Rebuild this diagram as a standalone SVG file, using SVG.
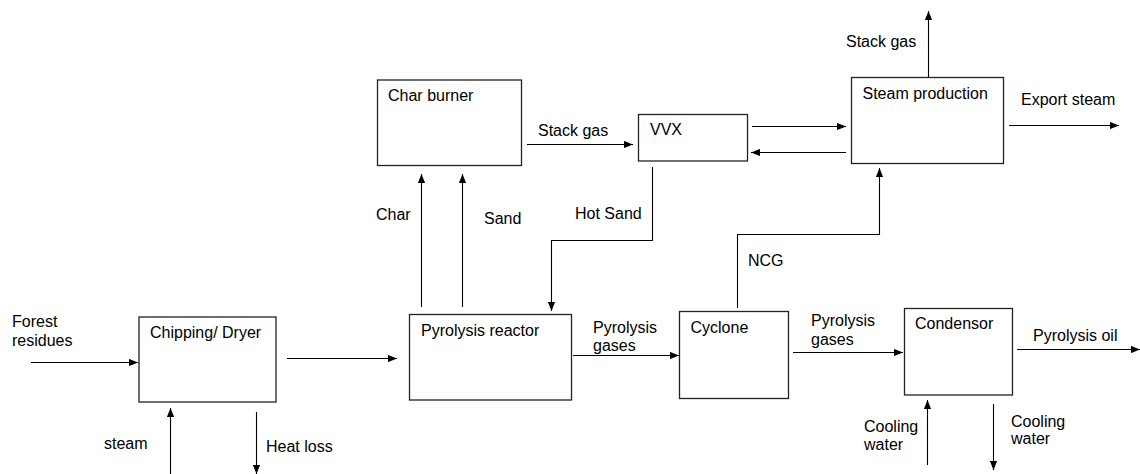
<svg xmlns="http://www.w3.org/2000/svg" width="1140" height="474" viewBox="0 0 1140 474">
<style>
.box{fill:#fff;stroke:#222;stroke-width:1.3}
.ln{fill:none;stroke:#000;stroke-width:1.1}
text{font-family:"Liberation Sans",Arial,sans-serif;font-size:16px;fill:#000}
</style>
<defs>
<marker id="ah" viewBox="0 0 10 8" refX="10" refY="4" markerWidth="9" markerHeight="7.5" markerUnits="userSpaceOnUse" orient="auto">
<path d="M0,0 L10,4 L0,8 z" fill="#000"/>
</marker>
</defs>
<rect width="1140" height="474" fill="#fff"/>
<g id="chipping"><rect class="box" x="139" y="317" width="137" height="85"/><text x="150" y="338">Chipping/ Dryer</text></g>
<g id="reactor"><rect class="box" x="409.5" y="314.5" width="162" height="85.5"/><text x="421" y="336">Pyrolysis reactor</text></g>
<g id="charburner"><rect class="box" x="377.5" y="80" width="144" height="85.5"/><text x="388" y="101">Char burner</text></g>
<g id="vvx"><rect class="box" x="638.5" y="114.5" width="109" height="46.5"/><text x="650" y="135">VVX</text></g>
<g id="steamprod"><rect class="box" x="851.5" y="77.5" width="152" height="86"/><text x="862.5" y="99">Steam production</text></g>
<g id="cyclone"><rect class="box" x="679.5" y="311.5" width="109" height="87"/><text x="690.5" y="333">Cyclone</text></g>
<g id="condensor"><rect class="box" x="904.5" y="308.5" width="108" height="86.5"/><text x="915" y="329">Condensor</text></g>
<g id="connectors">
<line class="ln" x1="31" y1="362.5" x2="138" y2="362.5" marker-end="url(#ah)"/>
<line class="ln" x1="287" y1="358.5" x2="397" y2="358.5" marker-end="url(#ah)"/>
<line class="ln" x1="170.5" y1="474" x2="170.5" y2="408" marker-end="url(#ah)"/>
<line class="ln" x1="256.5" y1="412" x2="256.5" y2="474" marker-end="url(#ah)"/>
<line class="ln" x1="421.5" y1="307" x2="421.5" y2="174" marker-end="url(#ah)"/>
<line class="ln" x1="462.5" y1="307" x2="462.5" y2="174" marker-end="url(#ah)"/>
<line class="ln" x1="527" y1="144.5" x2="633" y2="144.5" marker-end="url(#ah)"/>
<polyline class="ln" points="652.5,167 652.5,240.5 551.5,240.5 551.5,311" marker-end="url(#ah)"/>
<line class="ln" x1="573" y1="355.5" x2="679" y2="355.5" marker-end="url(#ah)"/>
<polyline class="ln" points="737.5,308 737.5,234.5 879.5,234.5 879.5,168" marker-end="url(#ah)"/>
<line class="ln" x1="793" y1="352.5" x2="903" y2="352.5" marker-end="url(#ah)"/>
<line class="ln" x1="1017" y1="349.5" x2="1140" y2="349.5" marker-end="url(#ah)"/>
<line class="ln" x1="927.5" y1="465" x2="927.5" y2="400" marker-end="url(#ah)"/>
<line class="ln" x1="993.5" y1="404" x2="993.5" y2="470" marker-end="url(#ah)"/>
<line class="ln" x1="752" y1="126.5" x2="846" y2="126.5" marker-end="url(#ah)"/>
<line class="ln" x1="846" y1="152.5" x2="751" y2="152.5" marker-end="url(#ah)"/>
<line class="ln" x1="928.5" y1="77" x2="928.5" y2="11" marker-end="url(#ah)"/>
<line class="ln" x1="1009" y1="125.5" x2="1119" y2="125.5" marker-end="url(#ah)"/>
</g>
<g id="labels">
<text x="12" y="327">Forest</text>
<text x="12" y="346">residues</text>
<text x="104" y="449">steam</text>
<text x="266" y="452">Heat loss</text>
<text x="376" y="220">Char</text>
<text x="484" y="224">Sand</text>
<text x="538" y="136">Stack gas</text>
<text x="575" y="219">Hot Sand</text>
<text x="593" y="333">Pyrolysis</text>
<text x="593" y="351">gases</text>
<text x="748" y="266">NCG</text>
<text x="811" y="326">Pyrolysis</text>
<text x="811" y="345">gases</text>
<text x="1033" y="341">Pyrolysis oil</text>
<text x="864" y="432">Cooling</text>
<text x="864" y="450">water</text>
<text x="1011" y="427">Cooling</text>
<text x="1011" y="444">water</text>
<text x="846" y="47">Stack gas</text>
<text x="1021" y="105">Export steam</text>
</g>
</svg>
